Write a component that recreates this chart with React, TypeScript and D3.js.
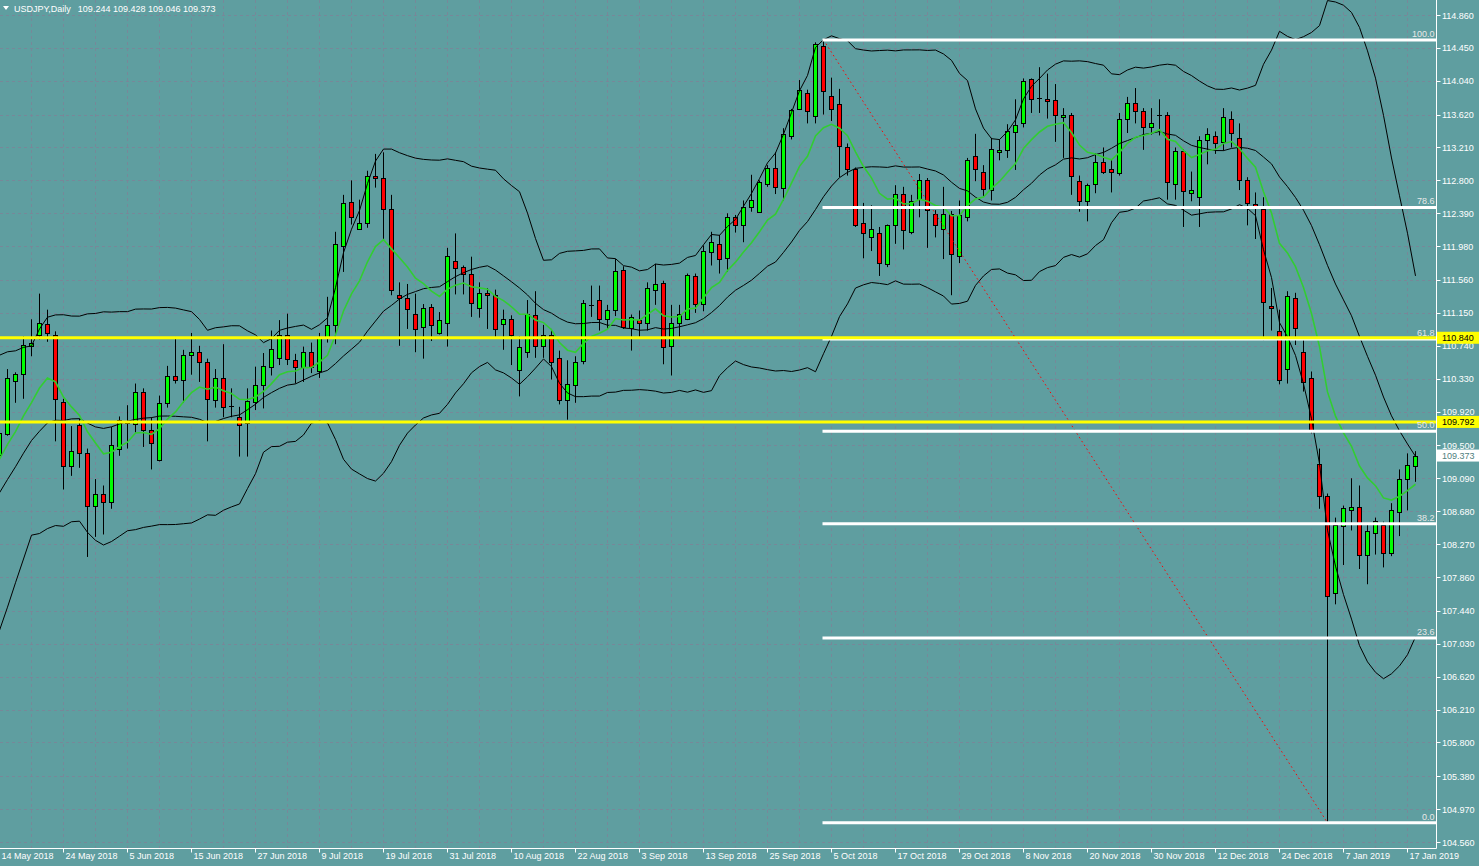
import React from "react";
import * as d3 from "d3";

// Daily OHLC [open, high, low, close], 14 May 2018 .. 18 Jan 2019
const may2018: number[][] = [
  [109.38, 109.75, 109.29, 109.66], [109.64, 110.45, 109.62, 110.34], [110.30, 110.41, 110.03, 110.39],
  [110.39, 110.86, 110.08, 110.75], [110.74, 111.07, 110.61, 110.78], [110.88, 111.39, 110.82, 111.03],
  [111.01, 111.19, 110.79, 110.90], [110.87, 110.92, 109.55, 110.08], [110.04, 110.08, 108.95, 109.24],
  [109.24, 109.74, 109.12, 109.43], [109.75, 109.83, 109.22, 109.40], [109.40, 109.46, 108.11, 108.75],
  [108.75, 109.08, 108.36, 108.90], [108.90, 109.00, 108.39, 108.79],
];
const jun2018: number[][] = [
  [108.80, 109.73, 108.71, 109.50], [109.45, 109.86, 109.37, 109.81], [109.80, 110.00, 109.46, 109.78],
  [109.76, 110.27, 109.66, 110.17], [110.17, 110.21, 109.48, 109.69], [109.69, 109.85, 109.20, 109.53],
  [109.32, 110.12, 109.30, 110.03], [110.03, 110.49, 109.97, 110.36], [110.36, 110.85, 110.27, 110.32],
  [110.32, 110.69, 110.03, 110.62], [110.62, 110.90, 110.38, 110.66], [110.66, 110.74, 110.29, 110.54],
  [110.54, 110.58, 109.55, 110.08], [110.07, 110.45, 109.97, 110.34], [110.34, 110.76, 109.85, 109.98],
  [109.99, 110.21, 109.85, 109.99], [109.85, 109.98, 109.36, 109.75], [109.78, 110.21, 109.36, 110.05],
  [110.04, 110.48, 109.94, 110.25], [110.25, 110.65, 109.96, 110.49], [110.47, 110.93, 110.37, 110.70],
];
const jul2018: number[][] = [
  [110.59, 111.06, 110.50, 110.88], [110.87, 111.14, 110.50, 110.58], [110.56, 110.64, 110.27, 110.47],
  [110.47, 110.73, 110.29, 110.66], [110.66, 110.78, 110.40, 110.47], [110.42, 110.90, 110.34, 110.85],
  [110.85, 111.35, 110.78, 111.00], [111.00, 112.16, 110.76, 112.01], [111.98, 112.62, 111.66, 112.52],
  [112.53, 112.80, 112.25, 112.35], [112.19, 112.56, 112.19, 112.27], [112.27, 112.92, 112.21, 112.86],
  [112.86, 113.13, 112.71, 112.83], [112.83, 113.15, 112.05, 112.45], [112.44, 112.62, 111.37, 111.43],
  [111.37, 111.53, 110.74, 111.34], [111.33, 111.51, 110.95, 111.20], [111.13, 111.39, 110.66, 110.95],
  [110.97, 111.26, 110.58, 111.21], [111.22, 111.26, 110.80, 111.00], [110.90, 111.16, 110.88, 111.06],
  [111.02, 111.96, 110.73, 111.86],
];
const aug2018: number[][] = [
  [111.79, 112.14, 111.38, 111.71], [111.72, 111.74, 111.38, 111.64], [111.64, 111.85, 111.10, 111.27],
  [111.21, 111.53, 111.09, 111.40], [111.40, 111.46, 110.95, 111.37], [111.37, 111.44, 110.83, 110.95],
  [111.01, 111.19, 110.69, 111.07], [111.07, 111.12, 110.50, 110.88], [110.44, 110.86, 110.11, 110.72],
  [110.66, 111.31, 110.59, 111.13], [111.12, 111.42, 110.59, 110.74], [110.74, 111.00, 110.59, 110.88],
  [110.88, 110.95, 110.32, 110.54], [110.59, 110.68, 110.01, 110.06], [110.06, 110.56, 109.82, 110.26],
  [110.25, 110.61, 110.03, 110.54], [110.55, 111.31, 110.51, 111.27], [111.25, 111.49, 111.10, 111.25],
  [111.31, 111.49, 110.93, 111.07], [111.07, 111.25, 110.95, 111.18], [111.18, 111.82, 111.11, 111.67],
  [111.68, 111.73, 110.95, 110.98], [110.96, 111.13, 110.68, 111.10],
];
const sep2018: number[][] = [
  [111.06, 111.18, 110.85, 111.02], [111.02, 111.53, 110.93, 111.46], [111.43, 111.76, 111.25, 111.51],
  [111.52, 111.55, 110.51, 110.72], [110.74, 111.25, 110.37, 111.03], [111.02, 111.25, 110.85, 111.13],
  [111.08, 111.64, 111.06, 111.62], [111.61, 111.64, 111.15, 111.26], [111.26, 111.99, 111.17, 111.92],
  [111.91, 112.16, 111.74, 112.03], [112.01, 112.12, 111.64, 111.82], [111.83, 112.39, 111.66, 112.35],
  [112.34, 112.37, 112.15, 112.25], [112.25, 112.55, 112.03, 112.47], [112.47, 112.87, 112.41, 112.55],
  [112.41, 112.80, 112.40, 112.78], [112.76, 112.99, 112.72, 112.95], [112.96, 113.15, 112.63, 112.72],
  [112.70, 113.45, 112.55, 113.38], [113.35, 113.69, 113.31, 113.68],
];
const oct2018: number[][] = [
  [113.69, 114.05, 113.69, 113.92], [113.89, 113.93, 113.51, 113.66], [113.60, 114.52, 113.51, 114.50],
  [114.47, 114.55, 113.62, 113.91], [113.85, 114.08, 113.54, 113.69], [113.75, 113.94, 112.84, 113.23],
  [113.21, 113.26, 112.86, 112.94], [112.94, 112.96, 112.22, 112.25], [112.27, 112.52, 111.83, 112.15],
  [112.10, 112.49, 111.92, 112.20], [112.15, 112.22, 111.61, 111.77], [111.76, 112.25, 111.72, 112.24],
  [112.24, 112.74, 112.01, 112.63], [112.63, 112.72, 111.94, 112.18], [112.16, 112.62, 112.13, 112.54],
  [112.57, 112.88, 112.34, 112.81], [112.80, 112.83, 111.96, 112.43], [112.38, 112.43, 112.09, 112.24],
  [112.20, 112.72, 111.82, 112.38], [112.38, 112.42, 111.37, 111.88], [111.86, 112.55, 111.77, 112.37],
  [112.34, 113.08, 112.29, 113.05], [113.10, 113.38, 112.79, 112.94],
];
const nov2018: number[][] = [
  [112.91, 112.99, 112.60, 112.69], [112.68, 113.33, 112.55, 113.19], [113.15, 113.31, 113.05, 113.18],
  [113.18, 113.50, 113.08, 113.42], [113.40, 113.81, 112.93, 113.49], [113.52, 114.07, 113.46, 114.04],
  [114.06, 114.07, 113.64, 113.81], [113.83, 114.21, 113.64, 113.83], [113.81, 114.13, 113.57, 113.79],
  [113.80, 114.00, 113.28, 113.61], [113.59, 113.70, 113.08, 113.61], [113.61, 113.64, 112.62, 112.85],
  [112.79, 112.86, 112.41, 112.54], [112.54, 112.76, 112.29, 112.74], [112.75, 113.14, 112.64, 113.03],
  [113.03, 113.21, 112.88, 112.91], [112.94, 113.06, 112.65, 112.91], [112.89, 113.64, 112.86, 113.57],
  [113.56, 113.84, 113.39, 113.77], [113.77, 113.95, 113.51, 113.67], [113.66, 113.70, 113.18, 113.46],
  [113.46, 113.70, 113.37, 113.52],
];
const dec2018: number[][] = [
  [113.62, 113.81, 113.36, 113.62], [113.61, 113.65, 112.56, 112.78], [112.75, 113.21, 112.56, 113.17],
  [113.17, 113.19, 112.22, 112.67], [112.64, 112.91, 112.54, 112.68], [112.59, 113.35, 112.22, 113.30],
  [113.30, 113.45, 113.00, 113.38], [113.35, 113.41, 113.13, 113.26], [113.28, 113.70, 113.17, 113.59],
  [113.57, 113.66, 113.21, 113.39], [113.33, 113.51, 112.68, 112.81], [112.81, 112.84, 112.24, 112.52],
  [112.50, 112.65, 112.07, 112.47], [112.44, 112.59, 110.81, 111.28], [111.23, 111.46, 110.93, 111.21],
  [110.92, 111.19, 110.26, 110.31], [110.45, 111.42, 110.27, 111.36], [111.34, 111.40, 110.75, 110.96],
  [110.66, 110.81, 110.17, 110.29], [110.34, 110.42, 109.65, 109.69],
];
const jan2019: number[][] = [
  [109.27, 109.46, 108.71, 108.87], [108.87, 108.90, 104.80, 107.63], [107.66, 108.60, 107.52, 108.51],
  [108.50, 108.75, 108.01, 108.72], [108.70, 109.09, 108.44, 108.73], [108.73, 109.00, 107.96, 108.14],
  [108.13, 108.52, 107.77, 108.43], [108.41, 108.60, 108.14, 108.56], [108.51, 108.55, 107.98, 108.16],
  [108.16, 108.78, 108.12, 108.70], [108.67, 109.20, 108.37, 109.08], [109.08, 109.40, 108.69, 109.25],
  [109.244, 109.428, 109.046, 109.373],
];

// closes before the first visible bar (13 Apr .. 11 May 2018), used by the indicators
const priorCloses = [
  107.35, 107.12, 107.03, 107.22, 107.37, 107.63, 108.71, 108.82, 109.42, 109.31, 109.03,
  109.34, 109.86, 109.84, 109.17, 109.10, 109.09, 109.10, 109.72, 109.39, 109.38,
];

const priceTicks = [
  114.86, 114.45, 114.04, 113.62, 113.21, 112.8, 112.39, 111.98, 111.56, 111.15, 110.74, 110.33, 109.92,
  109.5, 109.09, 108.68, 108.27, 107.86, 107.44, 107.03, 106.62, 106.21, 105.8, 105.38, 104.97, 104.56,
];
const dateTicks = [
  "14 May 2018", "24 May 2018", "5 Jun 2018", "15 Jun 2018", "27 Jun 2018", "9 Jul 2018", "19 Jul 2018",
  "31 Jul 2018", "10 Aug 2018", "22 Aug 2018", "3 Sep 2018", "13 Sep 2018", "25 Sep 2018", "5 Oct 2018",
  "17 Oct 2018", "29 Oct 2018", "8 Nov 2018", "20 Nov 2018", "30 Nov 2018", "12 Dec 2018", "24 Dec 2018",
  "7 Jan 2019", "17 Jan 2019",
];
const fibLevels = [0, 23.6, 38.2, 50, 61.8, 78.6, 100];
const fibHigh = 114.55;
const fibHighBar = 103;
const fibLow = 104.8;
const fibLowBar = 166;
const hLevels = [110.84, 109.792];
const symbolTitle = "USDJPY,Daily";

const W = 1479;
const H = 866;
const PR = 1436.5;
const PB = 848.5;
const FONT = "'Liberation Sans', Arial, sans-serif";

export default function App() {
  const candles = [...may2018, ...jun2018, ...jul2018, ...aug2018, ...sep2018, ...oct2018, ...nov2018, ...dec2018, ...jan2019];
  const n = candles.length;
  const x = d3.scaleLinear().domain([0, n - 1]).range([-0.5, 8 * (n - 1) - 0.5]);
  const y = d3.scaleLinear().domain([104.56, 114.86]).range([842, 15]);

  const closesAll = [...priorCloses, ...candles.map((c) => c[3])];
  const off = priorCloses.length;
  const k = 2 / 11;
  const emaAll: number[] = [];
  closesAll.forEach((c, i) => emaAll.push(i === 0 ? c : emaAll[i - 1] + k * (c - emaAll[i - 1])));
  const ema = emaAll.slice(off);
  const bb = candles.map((_, i) => {
    const j = i + off;
    const win = closesAll.slice(j - 19, j + 1);
    const m = d3.mean(win) as number;
    const sd = Math.sqrt(d3.mean(win.map((v) => (v - m) ** 2)) as number);
    return { m, u: m + 2 * sd, l: m - 2 * sd };
  });
  const line = d3.line<number>().x((_, i) => x(i)).y((v) => y(v));

  const last = candles[n - 1];
  const fmt = d3.format(".3f");
  const bg = "#5f9ea0";
  const grid = "#778899";

  return (
    <div style={{ position: "absolute", left: 0, top: 0 }}>
      <svg width={W} height={H} style={{ display: "block", background: bg }}>
        <defs>
          <clipPath id="plot">
            <rect x={0} y={0} width={PR} height={PB} />
          </clipPath>
        </defs>
        {/* grid */}
        <g stroke={grid} strokeDasharray="3,3" strokeWidth={1}>
          {priceTicks.map((p) => (
            <line key={"h" + p} x1={0} x2={PR} y1={Math.round(y(p)) + 0.5} y2={Math.round(y(p)) + 0.5} />
          ))}
          {d3.range(4, n, 4).map((i) => (
            <line key={"v" + i} x1={x(i)} x2={x(i)} y1={0} y2={PB} />
          ))}
        </g>
        <g clipPath="url(#plot)">
          {/* candles */}
          {candles.map((c, i) => {
            const [o, h, l, cl] = c;
            const cx = x(i);
            const yt = Math.round(y(Math.max(o, cl)));
            const yb = Math.round(y(Math.min(o, cl)));
            return (
              <g key={i}>
                <line x1={cx} x2={cx} y1={y(h)} y2={y(l)} stroke="#000" strokeWidth={1} />
                {yb - yt < 1 ? (
                  <line x1={cx - 2.5} x2={cx + 2.5} y1={yt + 0.5} y2={yt + 0.5} stroke="#000" />
                ) : (
                  <rect x={cx - 2} y={yt + 0.5} width={4} height={yb - yt} fill={cl >= o ? "#00ff00" : "#ff0000"} stroke="#000" strokeWidth={1} />
                )}
              </g>
            );
          })}
          {/* indicators */}
          <path d={line(bb.map((b) => b.u)) || ""} fill="none" stroke="#000" strokeWidth={1} />
          <path d={line(bb.map((b) => b.m)) || ""} fill="none" stroke="#000" strokeWidth={1} />
          <path d={line(bb.map((b) => b.l)) || ""} fill="none" stroke="#000" strokeWidth={1} />
          <path d={line(ema) || ""} fill="none" stroke="#32cd32" strokeWidth={1.6} />
          {/* fibonacci */}
          <line x1={x(fibHighBar)} y1={y(fibHigh)} x2={x(fibLowBar)} y2={y(fibLow)} stroke="#ff0000" strokeWidth={1} strokeDasharray="1.5,3" />
          {fibLevels.map((lv) => {
            const p = fibLow + ((fibHigh - fibLow) * lv) / 100;
            return <line key={"f" + lv} x1={x(fibHighBar) - 1} x2={PR} y1={y(p)} y2={y(p)} stroke="#ffffff" strokeWidth={3} />;
          })}
          {hLevels.map((p) => (
            <line key={"y" + p} x1={0} x2={PR} y1={y(p)} y2={y(p)} stroke="#ffff00" strokeWidth={3} />
          ))}
        </g>
        {fibLevels.map((lv) => {
          const p = fibLow + ((fibHigh - fibLow) * lv) / 100;
          return (
            <text key={"ft" + lv} x={PR - 2} y={y(p) - 3} textAnchor="end" fill="#e8e8e8" fontSize={9} fontFamily={FONT}>
              {lv.toFixed(1)}
            </text>
          );
        })}
        {/* title */}
        <path d="M3,6 L9,6 L6,10 Z" fill="#ffffff" />
        <text x={14} y={11.5} fill="#ffffff" fontSize={9} fontFamily={FONT}>
          {symbolTitle}
          <tspan dx={7}>{last.map((v) => fmt(v)).join(" ")}</tspan>
        </text>
        {/* axes */}
        <line x1={PR} x2={PR} y1={0} y2={PB} stroke="#ffffff" />
        <line x1={0} x2={PR} y1={PB} y2={PB} stroke="#ffffff" />
        {priceTicks.map((p) => (
          <g key={"pt" + p}>
            <line x1={PR} x2={PR + 4} y1={Math.round(y(p)) + 0.5} y2={Math.round(y(p)) + 0.5} stroke="#ffffff" />
            <text x={1442} y={y(p) + 3.5} fill="#ffffff" fontSize={9} fontFamily={FONT}>
              {fmt(p)}
            </text>
          </g>
        ))}
        {hLevels.map((p) => (
          <g key={"hl" + p}>
            <rect x={1437} y={y(p) - 6} width={42} height={12} fill="#ffff00" />
            <text x={1442} y={y(p) + 3.5} fill="#000" fontSize={9} fontFamily={FONT}>
              {fmt(p)}
            </text>
          </g>
        ))}
        <rect x={1437} y={y(last[3]) - 6} width={42} height={12} fill="#ffffff" />
        <text x={1442} y={y(last[3]) + 3.5} fill="#4f7f80" fontSize={9} fontFamily={FONT}>
          {fmt(last[3])}
        </text>
        {dateTicks.map((d, j) => {
          const tx = x(j * 8);
          return (
            <g key={"d" + j}>
              <line x1={tx} x2={tx} y1={PB} y2={PB + 4} stroke="#ffffff" />
              <text x={Math.max(0, tx + 2)} y={859} fill="#ffffff" fontSize={9} fontFamily={FONT}>
                {d}
              </text>
            </g>
          );
        })}
      </svg>
    </div>
  );
}
